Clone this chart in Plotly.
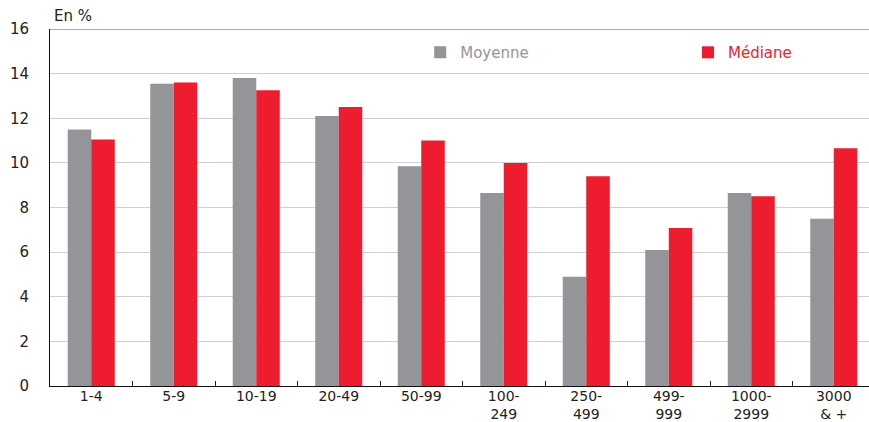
import plotly.graph_objects as go

categories = ["1-4", "5-9", "10-19", "20-49", "50-99", "100-249", "250-499", "499-999", "1000-2999", "3000 & +"]
tick_labels = ["1-4", "5-9", "10-19", "20-49", "50-99", "100-<br>249", "250-<br>499", "499-<br>999", "1000-<br>2999", "3000<br>& +"]
moyenne = [11.5, 13.55, 13.8, 12.1, 9.85, 8.65, 4.9, 6.1, 8.65, 7.5]
mediane = [11.05, 13.6, 13.25, 12.5, 11.0, 10.0, 9.4, 7.08, 8.5, 10.66]
y_ticks = [0, 2, 4, 6, 8, 10, 12, 14, 16]

GRAY = "#939598"
RED = "#ED1C2E"
FONT = "DejaVu Sans"

fig = go.Figure()
fig.add_trace(go.Bar(x=categories, y=moyenne, name="Moyenne", marker_color=GRAY,
                     marker_line_width=0, legend="legend"))
fig.add_trace(go.Bar(x=categories, y=mediane, name="Médiane", marker_color=RED,
                     marker_line_width=0, legend="legend2"))

fig.update_layout(
    width=869, height=422,
    margin=dict(l=49.5, r=0, t=28.6, b=36, autoexpand=False),
    paper_bgcolor="white", plot_bgcolor="white",
    barmode="group", bargap=0.43, bargroupgap=0,
    font=dict(family=FONT, size=15, color="#222222"),
    showlegend=True,
    legend=dict(x=0.452, y=0.934, xanchor="left", yanchor="middle",
                font=dict(family=FONT, size=15, color=GRAY), bgcolor="rgba(0,0,0,0)"),
    legend2=dict(x=0.779, y=0.934, xanchor="left", yanchor="middle",
                 font=dict(family=FONT, size=15, color=RED), bgcolor="rgba(0,0,0,0)"),
    xaxis=dict(
        type="category", range=[-0.5, 9.427], automargin=False,
        tickmode="array", tickvals=categories, ticktext=tick_labels,
        ticks="inside", tickson="boundaries", ticklen=5, tickcolor="#222222",
        showline=True, linecolor="#111111", linewidth=1,
        showgrid=False, ticklabelstandoff=-3,
        tickfont=dict(family=FONT, size=14, color="#222222"),
    ),
    yaxis=dict(
        range=[0, 16], tickvals=y_ticks, ticks="", automargin=False,
        showline=True, linecolor="#111111", linewidth=1,
        showgrid=True, gridcolor="#d0d0d0", gridwidth=1, zeroline=False,
        ticklabelstandoff=17, tickfont=dict(family=FONT, size=15, color="#222222"),
    ),
    shapes=[dict(type="line", xref="paper", yref="y", x0=0, x1=1, y0=16, y1=16,
                 line=dict(color="#555555", width=1))],
    annotations=[dict(text="En %", xref="paper", yref="paper", x=0, y=1, xshift=2, yshift=2,
                      xanchor="left", yanchor="bottom", showarrow=False,
                      font=dict(family=FONT, size=15, color="#222222"))],
)

fig.write_html("out.html")
